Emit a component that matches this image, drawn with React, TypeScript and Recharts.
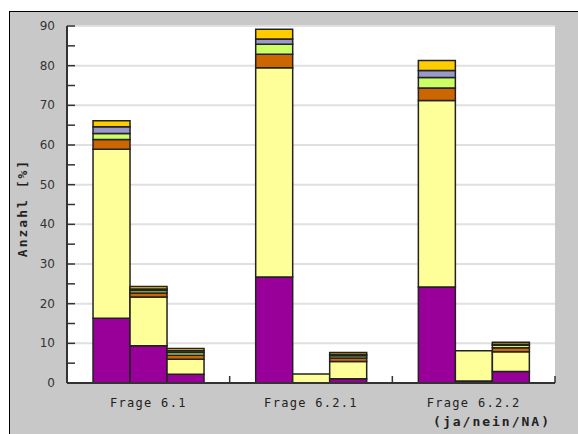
import React from 'react';
import { BarChart, Bar, XAxis, YAxis, CartesianGrid } from 'recharts';

// categories and bar positions inside each category
const categories = ['Frage 6.1', 'Frage 6.2.1', 'Frage 6.2.2'];
const positions = ['ja', 'nein', 'na'];

// values per series: [category][ja, nein, NA]  (stack order bottom -> top)
const purple = [[16.3, 9.4, 2.2], [26.7, 0, 1.1], [24.2, 0.5, 2.9]];
const yellow = [[42.6, 12.3, 3.8], [52.8, 2.3, 4.3], [47.0, 7.6, 5.0]];
const orange = [[2.5, 1.0, 1.0], [3.4, 0, 0.9], [3.2, 0, 1.0]];
const green = [[1.5, 0.6, 0.7], [2.5, 0, 0.6], [2.6, 0, 0.6]];
const lavender = [[1.7, 0.4, 0.4], [1.3, 0, 0.3], [1.8, 0, 0.3]];
const gold = [[1.5, 0.6, 0.6], [2.5, 0, 0.5], [2.5, 0, 0.5]];

const yTicks = [0, 5, 10, 15, 20, 25, 30, 35, 40, 45, 50, 55, 60, 65, 70, 75, 80, 85, 90];
const gridTicks = [10, 20, 30, 40, 50, 60, 70, 80, 90];
const edgeTicks = [0, 1, 2, 3];

const series = [
  { key: 's1', color: '#990099', values: purple },
  { key: 's2', color: '#FFFF99', values: yellow },
  { key: 's3', color: '#CC6600', values: orange },
  { key: 's4', color: '#CCFF66', values: green },
  { key: 's5', color: '#9999CC', values: lavender },
  { key: 's6', color: '#FFCC00', values: gold },
];

const data = categories.map((name, ci) => {
  const row: Record<string, any> = { name, slot: ci + 0.5 };
  series.forEach((s) => {
    positions.forEach((p, pi) => {
      row[`${s.key}_${p}`] = s.values[ci][pi];
    });
  });
  return row;
});

const mono = '"DejaVu Sans Mono", monospace';

const YTick = (props: any) => {
  const { x, y, payload } = props;
  if (payload.value % 10 !== 0) return null;
  return (
    <text x={x} y={y} dy={4} textAnchor="end" fill="#333" fontSize={12} fontFamily='"DejaVu Sans", sans-serif'>
      {payload.value}
    </text>
  );
};

const XTick = (props: any) => {
  const { x, y, payload } = props;
  return (
    <text x={x} y={y} dy={15} textAnchor="middle" fill="#222" fontSize={12} letterSpacing={1.3} fontFamily={mono}>
      {payload.value}
    </text>
  );
};

const NoTick = () => <g />;

const YTitle = (props: any) => {
  const vb = props.viewBox || {};
  const cx = vb.x + 12;
  const cy = vb.y + vb.height / 2 + 3.5;
  return (
    <text
      x={cx}
      y={cy}
      transform={`rotate(-90 ${cx} ${cy})`}
      textAnchor="middle"
      dy={4.5}
      fill="#222"
      fontSize={13}
      fontWeight="bold"
      letterSpacing={2}
      fontFamily={mono}
    >
      Anzahl [%]
    </text>
  );
};

const XTitle = (props: any) => {
  const vb = props.viewBox || {};
  return (
    <text
      x={vb.x + vb.width - 4}
      y={vb.y + 37}
      dy={4.5}
      textAnchor="end"
      fill="#222"
      fontSize={13}
      fontWeight="bold"
      letterSpacing={2}
      fontFamily={mono}
    >
      (ja/nein/NA)
    </text>
  );
};

export default function App() {
  return (
    <div
      style={{
        position: 'absolute',
        left: 9,
        top: 11,
        width: 568,
        height: 422,
        borderLeft: '1px solid #000',
        borderTop: '1px solid #000',
        background: '#c8c8c8',
        overflow: 'hidden',
      }}
    >
      <BarChart
        width={568}
        height={422}
        data={data}
        margin={{ top: 14, right: 23, bottom: 0, left: 0 }}
        barCategoryGap="16%"
        barGap={0}
      >
        <CartesianGrid
          xAxisId="cat"
          vertical={false}
          horizontalValues={gridTicks}
          stroke="#e0e0e0"
          strokeWidth={2}
          fill="#ffffff"
        />
        <XAxis
          xAxisId="a"
          type="number"
          dataKey="slot"
          domain={[0, 3]}
          ticks={edgeTicks}
          interval={0}
          allowDataOverflow
          height={1}
          tick={<NoTick />}
          tickSize={-7}
          tickMargin={0}
          axisLine={{ stroke: '#333', strokeWidth: 2 }}
          tickLine={{ stroke: '#333', strokeWidth: 1.5 }}
        />
        <XAxis
          xAxisId="cat"
          dataKey="name"
          height={50}
          axisLine={false}
          tickLine={false}
          tick={<XTick />}
          interval={0}
          label={{ content: <XTitle /> }}
        />
        <YAxis
          width={57}
          domain={[0, 90]}
          ticks={yTicks}
          interval={0}
          tickSize={-8}
          tickMargin={20}
          tick={<YTick />}
          axisLine={{ stroke: '#333', strokeWidth: 2 }}
          tickLine={{ stroke: '#333', strokeWidth: 1.5 }}
          label={{ content: <YTitle /> }}
        />
        {positions.map((p) =>
          series.map((s) => (
            <Bar
              key={`${s.key}_${p}`}
              xAxisId="cat"
              dataKey={`${s.key}_${p}`}
              stackId={p}
              fill={s.color}
              stroke="#222"
              strokeWidth={1.5}
              isAnimationActive={false}
            />
          ))
        )}
      </BarChart>
    </div>
  );
}
